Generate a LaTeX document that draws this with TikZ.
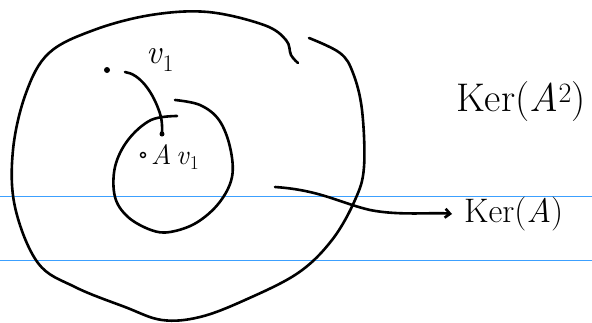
\documentclass[tikz,border=0pt]{standalone}
\usepackage{fontspec}
\usetikzlibrary{arrows.meta}
\begin{document}
\begin{tikzpicture}[x=1pt,y=-1pt,
  ink/.style={line width=2.6pt,line cap=round,line join=round,black},
  ruled/.style={line width=0.9pt,color={rgb,255:red,60;green,160;blue,255}},
  dotmark/.style={circle,fill=black,inner sep=0pt,minimum size=6pt},
  odot/.style={circle,draw=black,line width=1.4pt,inner sep=0pt,minimum size=5pt},
  lbl/.style={inner sep=0pt,font=\fontsize{34}{36}\selectfont},
  smlbl/.style={inner sep=0pt,font=\fontsize{28}{30}\selectfont},
  biglbl/.style={inner sep=0pt,font=\fontsize{40}{42}\selectfont},
  midlbl/.style={inner sep=0pt,font=\fontsize{34}{36}\selectfont}]
\useasboundingbox (0,0) rectangle (592,322);
\fill[white] (0,0) rectangle (592,322);
% ruled lines
\draw[ruled] (0,196) -- (592,196);
\draw[ruled] (0,260) -- (592,260);
% outer region Ker(A^2)
\draw[ink] plot[smooth,tension=0.6] coordinates {(309,38) (340,53) (353,73) (362,110) (364,167) (355,200) (332,240) (298,273) (245,300) (200,317) (162,320) (125,307) (75,287) (38,263) (15,207) (13,150) (26,93) (49,53) (94,30) (151,15) (208,12) (264,25) (286,40) (291,55) (298,63)};
% inner region Ker(A)
\draw[ink] plot[smooth,tension=0.6] coordinates {(177,116) (151,120) (128,140) (115,167) (115,197) (128,217) (151,230) (170,232) (196,223) (219,203) (232,177) (230,147) (219,120) (200,105) (175,100)};
% points
\node[dotmark] (v) at (107,70) {};
\node[dotmark,minimum size=5pt] (Av) at (162,134) {};
\node[odot] (o) at (143,155) {};
\node[lbl,anchor=west] (vlab) at (146,60) {\textit{v}\textsubscript{1}};
\node[smlbl,anchor=west] (Avlab) at (151,157) {\textit{A}\,\textit{v}\textsubscript{1}};
% map connector
\coordinate (cs) at (125,72);
\draw[ink] (cs) .. controls (140,74) and (152,92) .. (158,108) .. controls (163,120) and (162,128) .. (Av.center);
% labels
\node[biglbl,anchor=west] (kerA2) at (456,102) {Ker(\textit{A}\textsuperscript{2})};
\node[midlbl,anchor=west] (kerA) at (464,214) {Ker(\textit{A})};
% arrow to Ker(A)
\coordinate (as) at (275,187);
\draw[ink,-{Straight Barb[length=5pt,width=9pt]}] (as) .. controls (320,190) and (340,203) .. (370,210) .. controls (400,216) and (435,212) .. ([xshift=-12pt]kerA.west);
\end{tikzpicture}
\end{document}
